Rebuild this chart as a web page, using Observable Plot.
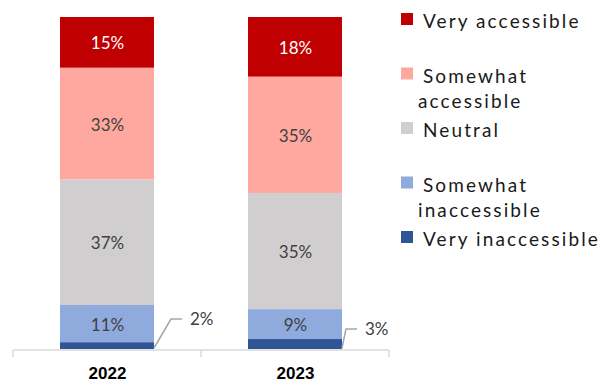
<!DOCTYPE html>
<html><head><meta charset="utf-8">
<script src="https://cdn.jsdelivr.net/npm/d3@7"></script>
<script src="https://cdn.jsdelivr.net/npm/@observablehq/plot@0.6"></script>
<style>body{margin:0;background:#fff}#chart{position:relative;width:616px;height:382px}</style>
</head><body><div id="chart"></div>
<script>
const years = ["2022", "2023"];
const categories = ["Very accessible", "Somewhat accessible", "Neutral", "Somewhat inaccessible", "Very inaccessible"];
const legendLines = [["Very accessible"], ["Somewhat", "accessible"], ["Neutral"], ["Somewhat", "inaccessible"], ["Very inaccessible"]];
const values2022 = [15, 33, 37, 11, 2];
const values2023 = [18, 35, 35, 9, 3];
const colors = ["#C00000", "#FFA8A0", "#D0CECE", "#8FAADC", "#2F5597"];

const valuesByYear = [values2022, values2023];
const data = [];
years.forEach((yr, i) => categories.forEach((c, j) => data.push({year: yr, category: c, value: valuesByYear[i][j]})));
const stackOrder = categories.slice().reverse(); // bottom → top
const SMALL = 5;
const labelFont = "Lato, 'Open Sans', sans-serif";

const stackOpts = {x: "year", y: "value", z: "category", order: stackOrder, offset: "normalize"};

const chart = Plot.plot({
  width: 616, height: 382,
  marginTop: 17, marginBottom: 33, marginLeft: 13, marginRight: 227,
  style: {fontFamily: labelFont, background: "#fff"},
  x: {domain: years, paddingInner: 0.5, paddingOuter: 0.25, label: null},
  y: {axis: null, domain: [0, 1]},
  color: {domain: categories, range: colors},
  marks: [
    Plot.barY(data, Plot.stackY({...stackOpts, fill: "category"})),
    Plot.text(data, Plot.stackY({...stackOpts,
      text: d => (d.category === categories[0] && d.value >= SMALL) ? d.value + "%" : "",
      fill: "white", fontSize: 17, dy: 1})),
    Plot.text(data, Plot.stackY({...stackOpts,
      text: d => (d.category !== categories[0] && d.value >= SMALL) ? d.value + "%" : "",
      fill: "#404040", fontSize: 17, dy: 1})),
    Plot.axisX({tickSize: 0, tickPadding: 17, fontSize: 17, fontWeight: "bold", fill: "#000",
      fontFamily: "'Liberation Sans', Arial, sans-serif"})
  ]
});
document.getElementById("chart").appendChild(chart);

// --- extras drawn from the scales ---
const svg = d3.select(chart);
const sx = chart.scale("x");
const sy = chart.scale("y");
const [r0, r1] = sx.range;
const yBase = sy.apply(0) + 1;
const axisColor = "#D9D9D9";
const g = svg.append("g").attr("text-anchor", "start");
g.append("line").attr("x1", r0).attr("x2", r1).attr("y1", yBase).attr("y2", yBase)
  .attr("stroke", axisColor).attr("stroke-width", 1.5);
for (let i = 0; i <= years.length; i++) {
  const xx = r0 + i * (r1 - r0) / years.length;
  g.append("line").attr("x1", xx).attr("x2", xx).attr("y1", yBase).attr("y2", yBase + 7)
    .attr("stroke", axisColor).attr("stroke-width", 1.5);
}

// callouts for small segments (offsets relative to bar bottom-right corner)
const calloutLayout = {"2022": {ex: 17, ey: -29, len: 11}, "2023": {ex: 4, ey: -19, len: 11}};
data.filter(d => d.value < SMALL).forEach(d => {
  const L = calloutLayout[d.year];
  const ax = sx.apply(d.year) + sx.bandwidth, ay = sy.apply(0) - 1;
  const ex = ax + L.ex, ey = ay + L.ey;
  g.append("path").attr("d", `M${ax},${ay}L${ex},${ey}L${ex + L.len},${ey}`)
    .attr("fill", "none").attr("stroke", "#A6A6A6").attr("stroke-width", 1.5);
  g.append("text").attr("x", ex + L.len + 8).attr("y", ey).attr("dy", "0.35em")
    .attr("font-size", 17).attr("fill", "#404040").attr("font-family", labelFont)
    .attr("text-anchor", "start").text(d.value + "%");
});

// legend
const lg = svg.append("g").attr("font-family", labelFont).attr("font-size", 19).attr("fill", "#1a1a1a")
  .attr("text-anchor", "start");
const legX = r1 + 12, legY0 = 13, legStep = 54.5, sq = 12, lineH = 25.5;
categories.forEach((c, i) => {
  const top = legY0 + i * legStep;
  lg.append("rect").attr("x", legX).attr("y", top).attr("width", sq).attr("height", sq).attr("fill", colors[i]);
  legendLines[i].forEach((t, k) => {
    lg.append("text").attr("x", legX + 22 - (k > 0 ? 5 : 0)).attr("y", top + 15 + k * lineH)
      .attr("letter-spacing", "2.1px").attr("text-anchor", "start").text(t);
  });
});
</script>
</body></html>
